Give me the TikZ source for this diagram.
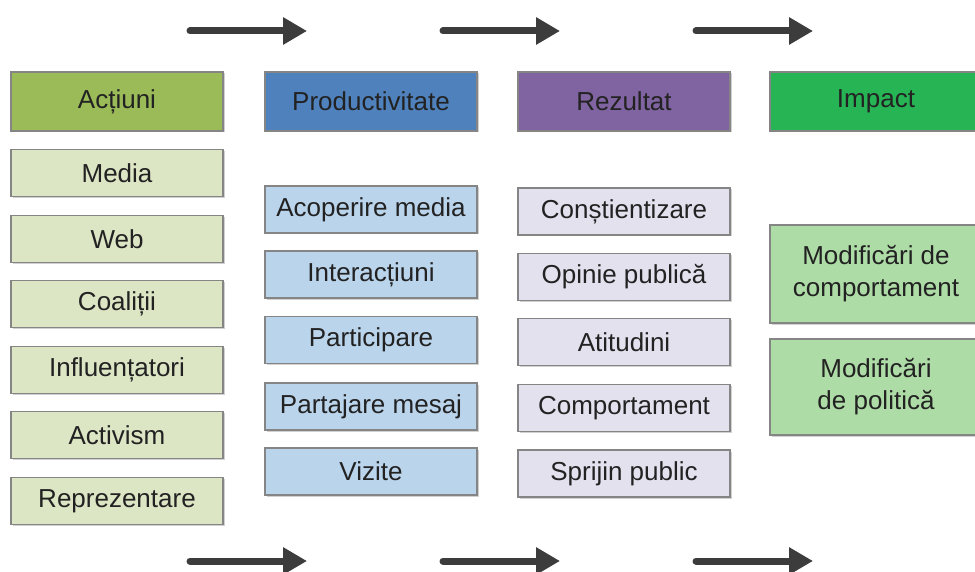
\documentclass[tikz,border=0pt]{standalone}
\usepackage{fontspec}
\setmainfont{Liberation Sans}
\usetikzlibrary{arrows.meta,shadows}
\definecolor{hOlive}{HTML}{9BBB59}
\definecolor{hBlue}{HTML}{4F81BD}
\definecolor{hPurple}{HTML}{8064A2}
\definecolor{hGreen}{HTML}{27B455}
\definecolor{lOlive}{HTML}{DCE5C4}
\definecolor{lBlue}{HTML}{BAD4EC}
\definecolor{lPurple}{HTML}{E4E1EE}
\definecolor{lGreen}{HTML}{AEDCA6}
\definecolor{txt}{HTML}{222222}
\definecolor{edge}{HTML}{858585}
\definecolor{arr}{HTML}{3C3C3C}
\tikzset{
  box/.style={draw=edge, line width=1.2pt, minimum width=212pt, inner sep=0pt,
     text=txt, align=center,
     font=\fontsize{26}{32}\selectfont,
     drop shadow={shadow xshift=1.5pt, shadow yshift=-1.5pt, fill=black!40, opacity=.45}},
  head/.style={box, minimum height=59pt},
  item/.style={box, minimum height=47pt},
  flow/.style={draw=arr, line width=7pt, line cap=round, -{Triangle[length=24pt,width=26pt]}}
}
\begin{document}
\begin{tikzpicture}[x=1pt,y=-1pt]
\useasboundingbox[fill=white] (0,0) rectangle (975,572);
\clip (0,0) rectangle (975,572);
% arrows
\coordinate (t1a) at (190,31); \coordinate (t1b) at (307,31);
\coordinate (t2a) at (443,31); \coordinate (t2b) at (560,31);
\coordinate (t3a) at (696,31); \coordinate (t3b) at (813,31);
\coordinate (b1a) at (190,561); \coordinate (b1b) at (307,561);
\coordinate (b2a) at (443,561); \coordinate (b2b) at (560,561);
\coordinate (b3a) at (696,561); \coordinate (b3b) at (813,561);
\foreach \a/\b in {t1a/t1b,t2a/t2b,t3a/t3b,b1a/b1b,b2a/b2b,b3a/b3b}
  \draw[flow] (\a) -- (\b);
% headers
\node[head, fill=hOlive] (h1) at (117,101.5) {Acțiuni};
\node[head, fill=hBlue] (h2) at (371,101.5) {Productivitate};
\node[head, fill=hPurple] (h3) at (624,101.5) {Rezultat};
\node[head, fill=hGreen] (h4) at (876,101.5) {Impact};
% column 1
\node[item, fill=lOlive] (a1) at (117,173) {Media};
\node[item, fill=lOlive] (a2) at (117,239) {Web};
\node[item, fill=lOlive] (a3) at (117,304) {Coaliții};
\node[item, fill=lOlive] (a4) at (117,370) {Influențatori};
\node[item, fill=lOlive] (a5) at (117,435) {Activism};
\node[item, fill=lOlive] (a6) at (117,501) {Reprezentare};
% column 2
\node[item, fill=lBlue] (p1) at (371,209.5) {Acoperire media};
\node[item, fill=lBlue] (p2) at (371,274.5) {Interacțiuni};
\node[item, fill=lBlue] (p3) at (371,340) {Participare};
\node[item, fill=lBlue] (p4) at (371,406.5) {Partajare mesaj};
\node[item, fill=lBlue] (p5) at (371,471.5) {Vizite};
% column 3
\node[item, fill=lPurple] (r1) at (624,211.5) {Conștientizare};
\node[item, fill=lPurple] (r2) at (624,277) {Opinie publică};
\node[item, fill=lPurple] (r3) at (624,342) {Atitudini};
\node[item, fill=lPurple] (r4) at (624,408) {Comportament};
\node[item, fill=lPurple] (r5) at (624,473.5) {Sprijin public};
% column 4
\node[box, fill=lGreen, minimum height=98pt] (i1) at (876,274) {Modificări de\\comportament};
\node[box, fill=lGreen, minimum height=96pt] (i2) at (876,387) {Modificări\\de politică};
\end{tikzpicture}
\end{document}
